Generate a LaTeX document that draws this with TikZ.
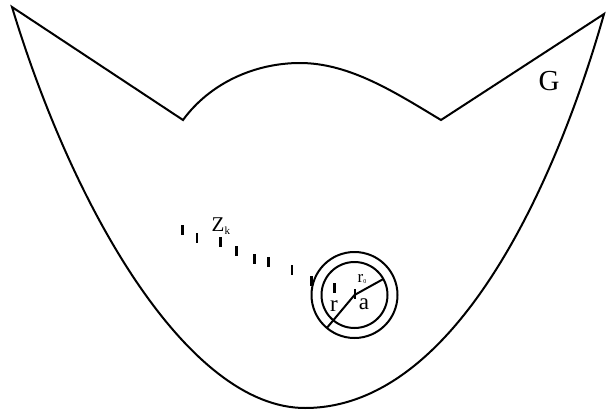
\documentclass[tikz,border=0pt]{standalone}
\usepackage{fontspec}
\setmainfont{Liberation Serif}
\usetikzlibrary{calc}

\begin{document}
\begin{tikzpicture}[
  x=1pt, y=-1pt,
  rand/.style={line width=2pt, line join=miter},
  kreis/.style={draw, circle, line width=2pt, inner sep=0pt, outer sep=0pt},
  marke/.style={fill=black, inner sep=0pt, minimum width=2.5pt, minimum height=10pt},
  lbl/.style={inner sep=0pt}
]
  \useasboundingbox (0,0) rectangle (606,410);

  % Gebiet G
  \coordinate (tl) at (12,7);
  \coordinate (nl) at (183,120);
  \coordinate (top) at (300,63);
  \coordinate (nr) at (441,120);
  \coordinate (tr) at (604,14);
  \coordinate (bot) at (305,408);
  \draw[rand] (tl) -- (nl) .. controls (210,83) and (255,63) .. (top)
    .. controls (350,63) and (396,93) .. (nr) -- (tr)
    .. controls (560,170) and (460,408) .. (bot)
    .. controls (190,408) and (75,215) .. cycle;

  % Kreise um a
  \coordinate (ctr) at (354.5,295);
  \node[kreis, minimum size=86pt] (aussen) at (ctr) {};
  \node[kreis, minimum size=66pt] (innen) at (ctr) {};
  \draw[rand] (ctr) -- (aussen.230);
  \draw[rand] (ctr) -- (innen.29);

  % Folge z_k
  \foreach \n/\px/\py in {t1/182.4/230, t2/197.1/238, t3/220.3/241.5,
      t4/236.6/250.5, t5/254.4/259, t6/268.3/261.7, t7/291.8/270.3,
      t8/311.6/281, t9/334.7/287.7, t10/355/293.5} {
    \node[marke] (\n) at (\px,\py) {};
  }

  % Beschriftungen
  \node[lbl, anchor=base west, font=\fontsize{21}{21}\selectfont] (zk) at (211.5,231)
    {Z\raisebox{-3.5pt}{\fontsize{11}{11}\selectfont k}};
  \node[lbl, anchor=base, font=\fontsize{29}{29}\selectfont] (glbl) at (549,90) {G};
  \node[lbl, anchor=base, font=\fontsize{23}{23}\selectfont] (rlbl) at (334,311.5) {r};
  \node[lbl, anchor=base, font=\fontsize{23}{23}\selectfont] (albl) at (364,309) {a};
  \node[lbl, anchor=base west, font=\fontsize{17}{17}\selectfont] (r0lbl) at (357.5,282)
    {r\raisebox{-1pt}{\fontsize{6}{6}\selectfont 0}};
\end{tikzpicture}
\end{document}
